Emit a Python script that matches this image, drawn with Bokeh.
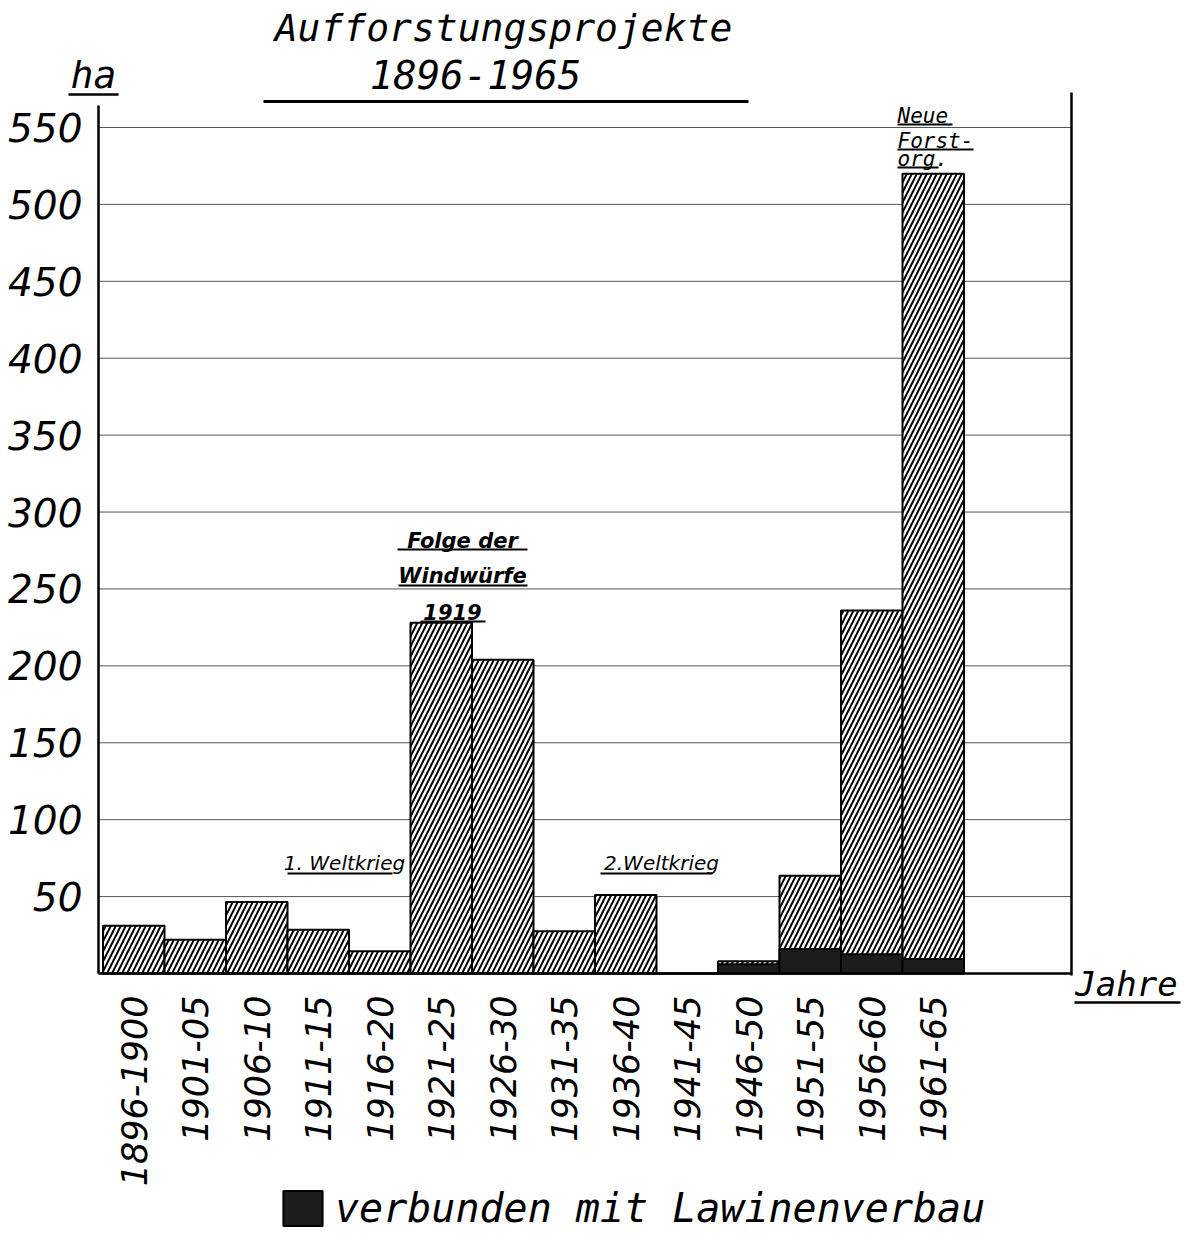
import math
from bokeh.plotting import figure
from bokeh.models import (Range1d, FixedTicker, Label, Arrow,
                          Legend, LegendItem, ColumnDataSource)
from bokeh.embed import file_html
from bokeh.resources import INLINE

# ---------------- data ----------------
periods = ["1896-1900", "1901-05", "1906-10", "1911-15", "1916-20", "1921-25",
           "1926-30", "1931-35", "1936-40", "1941-45", "1946-50", "1951-55",
           "1956-60", "1961-65"]
total_ha = [31, 22, 46.5, 28.5, 14.5, 228, 204, 27.5, 51, 0, 8, 63.5, 236, 520]
lawinen_ha = [0, 0, 0, 0, 0, 0, 0, 0, 0, 0, 6, 16, 12.5, 9.5]
y_ticks = [50, 100, 150, 200, 250, 300, 350, 400, 450, 500, 550]

title_line1 = "Aufforstungsprojekte"
title_line2 = "1896-1965"
unit_text = "ha"
x_title = "Jahre"
legend_text = "verbunden mit Lawinenverbau"
note_neue = ["Neue", "Forst-", "org."]
note_folge = ["Folge der", "Windwürfe", "1919"]
note_wk1 = "1. Weltkrieg"
note_wk2 = "2.Weltkrieg"

# ---------------- layout helpers (pixel -> data) ----------------
W, H = 1186, 1232
X0PX, XSTEP = 102.5, 61.5      # left edge of first bar, bar width (px)
Y0PX, YSCALE = 973.0, 1.5382   # baseline (px), px per ha


def dx(px):
    return (px - X0PX) / XSTEP - 0.5


def dy(py):
    return (Y0PX - py) / YSCALE


X_LEFT, X_RIGHT = dx(98), dx(1071)

idx = list(range(len(periods)))
src = ColumnDataSource(dict(x=idx, total=total_ha, lawinen=lawinen_ha, period=periods))

p = figure(width=W, height=H, output_backend="svg", toolbar_location=None,
           x_range=Range1d(dx(0), dx(W)), y_range=Range1d(dy(H), dy(0)),
           min_border_left=0, min_border_right=0, min_border_top=0,
           min_border_bottom=0)
p.outline_line_color = None
p.background_fill_color = "white"
p.border_fill_color = "white"
p.xgrid.visible = False
p.ygrid.visible = False

# horizontal grid lines at the y ticks, between left axis and right frame line
p.segment(x0=X_LEFT, x1=X_RIGHT, y0=y_ticks, y1=y_ticks,
          line_color="#555555", line_width=1)
# right frame line
p.segment(x0=X_RIGHT, x1=X_RIGHT, y0=dy(975), y1=dy(92),
          line_color="black", line_width=2.5)

hatched = p.vbar(x="x", top="total", bottom=0, width=1, source=src,
                 fill_color="white", line_color="black", line_width=2,
                 hatch_pattern="/", hatch_color="black", hatch_scale=10,
                 hatch_weight=2)
dark = p.vbar(x="x", top="lawinen", bottom=0, width=1, source=src,
              fill_color="#1c1c1c", line_color="black", line_width=2)

# axes drawn at fixed locations inside the canvas
ya = p.yaxis[0]
ya.fixed_location = X_LEFT
ya.bounds = (0, dy(105))
ya.ticker = FixedTicker(ticks=y_ticks)
ya.axis_line_width = 2.5
ya.axis_line_color = "black"
ya.major_tick_in = 0
ya.major_tick_out = 0
ya.minor_tick_in = 0
ya.minor_tick_out = 0
ya.major_label_standoff = 16
ya.major_label_text_font = "DejaVu Sans"
ya.major_label_text_font_style = "italic"
ya.major_label_text_font_size = "39px"
ya.major_label_text_color = "black"

xa = p.xaxis[0]
xa.fixed_location = 0
xa.bounds = (X_LEFT, X_RIGHT)
xa.ticker = FixedTicker(ticks=idx)
xa.major_label_overrides = {i: periods[i] for i in idx}
xa.major_label_orientation = math.pi / 2
xa.axis_line_width = 2.5
xa.axis_line_color = "black"
xa.major_tick_in = 0
xa.major_tick_out = 0
xa.minor_tick_in = 0
xa.minor_tick_out = 0
xa.major_label_standoff = 22
xa.major_label_text_font = "DejaVu Sans"
xa.major_label_text_font_style = "italic"
xa.major_label_text_font_size = "35px"
xa.major_label_text_color = "black"

# ---------------- texts ----------------
def lab(cx, base, text, font, size, style="italic", align="center"):
    # base: wanted baseline in px; small correction for renderer baseline
    p.add_layout(Label(x=dx(cx), y=dy(base - 0.22 * size), text=text,
                       text_font=font, text_font_size=f"{size}px",
                       text_font_style=style, text_align=align,
                       text_baseline="alphabetic", text_color="black"))


def uline(x0, x1, py, w=2.5):
    p.add_layout(Arrow(x_start=dx(x0), x_end=dx(x1), y_start=dy(py), y_end=dy(py),
                       end=None, line_color="black", line_width=w))


mono = "DejaVu Sans Mono"
sans = "DejaVu Sans"

lab(503, 36, title_line1, mono, 38)
lab(475, 83, title_line2, mono, 39)
uline(263, 748, 101, 3)

lab(93, 83, unit_text, mono, 38)
uline(68, 118, 94, 2.5)

lab(1126, 991, x_title, mono, 34)
uline(1074, 1180, 1002, 2.5)

neue_base = [120, 145, 163]
neue_ul = [(897, 952, 124), (897, 973, 149), (897, 938, 167)]
for t, b, u in zip(note_neue, neue_base, neue_ul):
    lab(897, b, t, mono, 21, align="left")
    uline(u[0], u[1], u[2], 2)

folge_pos = [(462, 545), (462, 580), (452, 616)]
folge_ul = [(397, 527, 549), (398, 527, 585), (420, 485, 621)]
for t, (cx, b), u in zip(note_folge, folge_pos, folge_ul):
    lab(cx, b, t, sans, 21, style="bold italic")
    uline(u[0], u[1], u[2], 2)

lab(344, 867, note_wk1, sans, 20)
uline(287, 392, 873, 2)
lab(661, 867, note_wk2, sans, 20)
uline(600, 712, 873, 2)

# ---------------- legend ----------------
legend = Legend(items=[LegendItem(label=legend_text, renderers=[dark])],
                location=(278, 1), orientation="horizontal",
                glyph_width=49, glyph_height=44, label_standoff=8,
                padding=0, margin=0, border_line_color=None,
                background_fill_alpha=0,
                label_text_font=mono, label_text_font_style="italic",
                label_text_font_size="40px", label_text_color="black")
p.add_layout(legend)

open("out.html", "w").write(file_html(p, INLINE))
